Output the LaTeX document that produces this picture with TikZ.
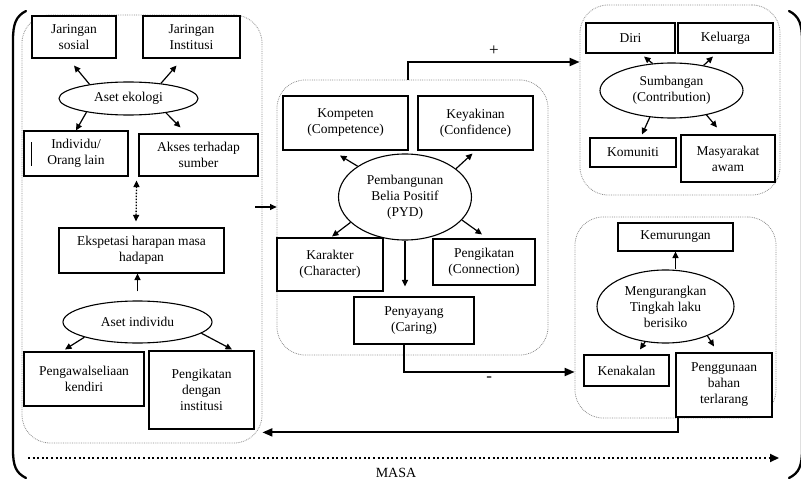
\documentclass[tikz,border=0pt]{standalone}
\usepackage{fontspec}
\setmainfont{Liberation Serif}
\usetikzlibrary{arrows.meta,shapes.geometric}

\begin{document}
\begin{tikzpicture}[x=1pt,y=-1pt]

    \tikzset{
      wh/.style 2 args={
        minimum width=#1pt,
        minimum height=#2pt,
      },
      box/.style={
        draw,
        fill=white,
        line width=1.1pt,
        align=center,
        inner sep=1pt,
        font=\fontsize{13.5}{16}\selectfont,
      },
      oval/.style={
        ellipse,
        draw,
        fill=white,
        line width=1.1pt,
        align=center,
        inner sep=0pt,
        font=\fontsize{13.5}{16}\selectfont,
      },
      grpbox/.style={
        draw=black!45,
        densely dotted,
        line width=0.8pt,
        rounded corners=28pt,
      },
      arr/.style={-{Triangle[length=6.5pt,width=6pt]}, line width=1.2pt},
      bigarr/.style={-{Triangle[length=10pt,width=8pt]}, line width=2pt},
      dotarr/.style={{Triangle[length=6.5pt,width=6pt]}-{Triangle[length=6.5pt,width=6pt]}, line width=1.3pt, dash pattern=on 1.5pt off 1.5pt},
      timearr/.style={-{Triangle[length=9pt,width=8pt]}, line width=2pt, dash pattern=on 2pt off 2.6pt},
      bracket/.style={line width=2.3pt, line cap=round},
      sign/.style={font=\fontsize{17}{18}\selectfont},
    }
    \useasboundingbox (0,0) rectangle (801,487);
    \clip (0,0) rectangle (801,487);

    % groups
    \node[grpbox, wh={240}{428}] (leftgrp) at (142,229) {};
    \node[grpbox, wh={271}{275}] (pydgrp) at (412.5,217.5) {};
    \node[grpbox, wh={200}{190}] (sumgrp) at (680,100) {};
    \node[grpbox, wh={201}{201}] (riskgrp) at (675.5,317.5) {};

    % aset ekologi / aset individu
    \node[box, wh={84}{42}] (jsos) at (74,37) {Jaringan\\sosial};
    \node[box, wh={97}{42}] (jins) at (191.5,37) {Jaringan\\Institusi};
    \node[oval, wh={139}{33}] (eko) at (128.5,98.5) {Aset ekologi};
    \node[box, wh={104}{45}] (ind) at (76,153.5) {Individu/\\Orang lain};
    \node[box, wh={119}{42}] (akses) at (198.5,155) {Akses terhadap\\sumber};
    \node[box, wh={165}{45}] (eksp) at (141.5,250.5) {Ekspetasi harapan masa\\hadapan};
    \node[oval, wh={149}{42}] (asind) at (137.5,322) {Aset individu};
    \node[box, wh={120}{54}] (peng) at (84,379) {Pengawalseliaan\\kendiri};
    \node[box, wh={105}{78}] (pengik) at (201.5,390) {Pengikatan\\dengan\\institusi};

    % PYD
    \node[box, wh={125}{54}] (komp) at (345.5,123) {Kompeten\\(Competence)};
    \node[box, wh={115}{54}] (yak) at (475.5,123) {Keyakinan\\(Confidence)};
    \node[oval, wh={133}{86}] (pyd) at (405,197) {Pembangunan\\Belia Positif\\(PYD)};
    \node[box, wh={106}{53}] (kar) at (330,264.5) {Karakter\\(Character)};
    \node[box, wh={102}{46}] (conn) at (484,262) {Pengikatan\\(Connection)};
    \node[box, wh={120}{47}] (car) at (414,320.5) {Penyayang\\(Caring)};

    % sumbangan
    \node[box, wh={89}{30}] (diri) at (630.5,38) {Diri};
    \node[box, wh={95}{30}] (kel) at (725.5,38) {Keluarga};
    \node[oval, wh={143}{55}] (sum) at (671.5,90.5) {Sumbangan\\(Contribution)};
    \node[box, wh={86}{29}] (kom) at (633,152.5) {Komuniti};
    \node[box, wh={94}{47}] (mas) at (728,158.5) {Masyarakat\\awam};

    % tingkah laku berisiko
    \node[box, wh={115}{28}] (kem) at (675.5,237) {Kemurungan};
    \node[oval, wh={137}{73}] (risk) at (665.5,306.5) {Mengurangkan\\Tingkah laku\\berisiko};
    \node[box, wh={85}{31}] (kenak) at (626.5,370.5) {Kenakalan};
    \node[box, wh={96}{64}] (guna) at (724,385) {Penggunaan\\bahan\\terlarang};

    % arrows, left
    \draw[arr] (eko.160) -- ([yshift=-7pt]jsos.south);
    \draw[arr] (eko.25) -- ([shift={(-15pt,-7pt)}]jins.south);
    \draw[arr] (eko.198) -- (ind.north);
    \draw[arr] (eko.339) -- ([shift={(-18pt,6pt)}]akses.north);
    \draw[dotarr] ([shift={(8pt,-4pt)}]ind.south east) -- ([shift={(-5.5pt,6pt)}]eksp.north);
    \draw[arr, shorten <=9pt] (asind.north) -- (asind.north |- eksp.south);
    \draw[arr] (asind.196) -- ([shift={(-19pt,2pt)}]peng.north);
    \draw[arr] (asind.350) -- ([shift={(30.5pt,1pt)}]pengik.north);
    \draw[line width=1.6pt] ([shift={(8pt,-12pt)}]ind.north west) -- ++(0,24);

    \coordinate (lout) at ([shift={(-7pt,22pt)}]leftgrp.east);
    \draw[arr] (lout) -- (lout -| pydgrp.west);

    % arrows, PYD
    \draw[arr] (pyd.147) -- ([shift={(-5.5pt,-5pt)}]komp.south);
    \draw[arr] (pyd.29) -- ([shift={(-3pt,-3pt)}]yak.south);
    \draw[arr] (pyd.205) -- ([shift={(2pt,1pt)}]kar.north);
    \draw[arr] (pyd.338) -- ([shift={(-2pt,4pt)}]conn.north);
    \draw[arr, shorten >=10pt] (pyd.south) -- (pyd.south |- car.north);

    \draw[bigarr] ([xshift=-4.5pt]pydgrp.north) |- ([yshift=38pt]sumgrp.west)
      node[sign, pos=0.75, above=2pt] (plus) {+};
    \draw[bigarr] ([xshift=-10pt]car.south) |- ([yshift=-54.5pt]riskgrp.west)
      node[sign, pos=0.75, below=1pt] (minus) {-};

    % arrows, sumbangan
    \draw[arr] (sum.125) -- ([shift={(13.5pt,-3pt)}]diri.south);
    \draw[arr] (sum.38) -- ([shift={(-12.5pt,-3pt)}]kel.south);
    \draw[arr] (sum.231) -- ([shift={(9pt,3pt)}]kom.north);
    \draw[arr] (sum.325) -- ([shift={(-11pt,7pt)}]mas.north);

    % arrows, risiko
    \draw[arr] (risk.north -| kem.south) -- (kem.south);
    \draw[arr] (risk.240) -- ([shift={(13.5pt,5pt)}]kenak.north);
    \draw[arr] (risk.325) -- ([shift={(-10pt,6pt)}]guna.north);

    \draw[bigarr] ([xshift=3pt]guna.south west) |- ([yshift=11pt]leftgrp.south east);

    % masa
    \coordinate (t0) at (28,458);
    \coordinate (t1) at (779,458);
    \draw[timearr] (t0) -- (t1) node[pos=0.49, below=6pt, font=\fontsize{14}{16}\selectfont] (masa) {MASA};

    \draw[bracket] (26,11) .. controls (16,16) and (13,24) .. (13,40) -- (13,450)
      .. controls (13,466) and (16,473) .. (26,478);
    \draw[bracket] (789,11) .. controls (799,16) and (802,24) .. (802,40) -- (802,450)
      .. controls (802,466) and (799,473) .. (789,478);

\end{tikzpicture}
\end{document}
